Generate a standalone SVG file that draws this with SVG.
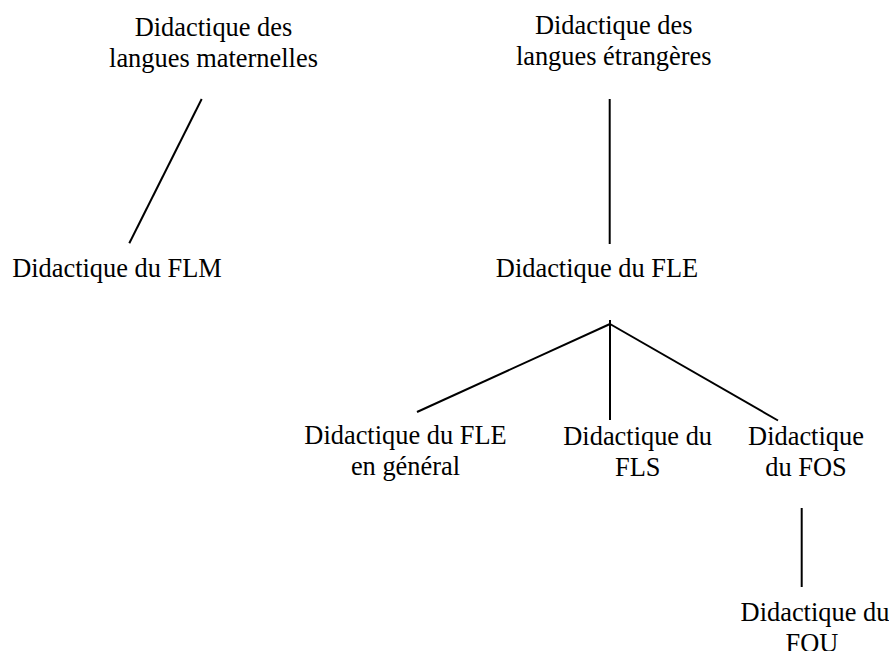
<svg xmlns="http://www.w3.org/2000/svg" width="889" height="651" viewBox="0 0 889 651">
<style>
.t{font-family:'Liberation Serif',Tinos,'Times New Roman',Times,serif;font-size:26.4px;fill:#000;text-anchor:middle}
.c line{stroke:#000;stroke-width:2;stroke-linecap:butt}
</style>
<rect width="889" height="651" fill="#fff"/>
<g class="c" id="connectors">
<line x1="201.7" y1="99" x2="129.3" y2="243.3"/>
<line x1="609.7" y1="99" x2="609.7" y2="244"/>
<line x1="610" y1="324" x2="417" y2="412"/>
<line x1="610" y1="320" x2="610" y2="420"/>
<line x1="610" y1="324" x2="778" y2="420.5"/>
<line x1="801.7" y1="508" x2="801.7" y2="587"/>
</g>
<g class="t" font-family="Liberation Serif, serif">
<g id="n-dlm"><text x="213.5" y="36">Didactique des</text><text x="213.5" y="67">langues maternelles</text></g>
<g id="n-dle"><text x="613.7" y="34">Didactique des</text><text x="613.7" y="65">langues étrangères</text></g>
<g id="n-flm"><text x="117" y="277">Didactique du FLM</text></g>
<g id="n-fle"><text x="597" y="277">Didactique du FLE</text></g>
<g id="n-fleg"><text x="405.5" y="444">Didactique du FLE</text><text x="405.5" y="475">en général</text></g>
<g id="n-fls"><text x="637.7" y="445">Didactique du</text><text x="637.7" y="476">FLS</text></g>
<g id="n-fos"><text x="806" y="445">Didactique</text><text x="806" y="476">du FOS</text></g>
<g id="n-fou"><text x="815" y="621">Didactique du</text><text x="812" y="652">FOU</text></g>
</g>
</svg>
